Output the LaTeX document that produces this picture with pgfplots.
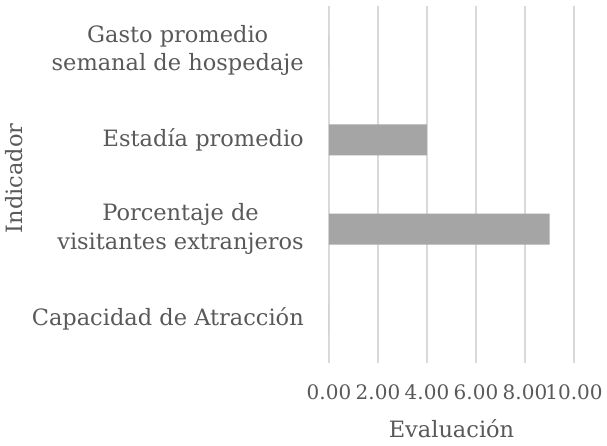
\documentclass[border=0pt]{standalone}
\usepackage{pgfplots}
\pgfplotsset{compat=1.18}
\usepackage{fontspec}
\setmainfont{DejaVu Serif}
\definecolor{txtc}{HTML}{595959}
\definecolor{barc}{HTML}{A5A5A5}
\definecolor{gridc}{HTML}{D9D9D9}
\begin{document}
\begin{tikzpicture}
\begin{axis}[
  scale only axis, width=245pt, height=357pt,
  xbar, bar width=31pt,
  xmin=0, xmax=10, ymin=-0.5, ymax=3.5,
  xtick={0,2,4,6,8,10},
  ytick={0,1,2,3},
  yticklabels={Capacidad de Atracción, Porcentaje de\\visitantes extranjeros, Estadía promedio, Gasto promedio\\semanal de hospedaje},
  xticklabel={\pgfmathprintnumber[fixed, fixed zerofill, precision=2]{\tick}},
  /pgf/number format/assume math mode=true,
  major tick length=0pt,
  axis line style={draw=none},
  xmajorgrids, ymajorgrids=false,
  major grid style={draw=gridc, line width=1.6pt},
  font=\fontsize{22.5}{28.5}\selectfont,
  tick label style={text=txtc},
  yticklabel style={align=center, inner sep=0pt, xshift=-25pt},
  xticklabel style={inner sep=0pt, yshift=-21pt, font=\fontsize{20}{26}\selectfont},
  xlabel={Evaluación}, ylabel={Indicador},
  label style={text=txtc, inner sep=0pt},
  xlabel style={at={([yshift=-74pt]axis description cs:0.5,0)}, anchor=base},
  ylabel style={at={([xshift=-306pt, yshift=6pt]axis description cs:0,0.5)}, anchor=base},
]
\addplot[fill=barc, draw=none] coordinates {(0,0) (9,1) (4,2) (0,3)};
\end{axis}
\path (current axis.south west) ++(-329pt,-82pt) rectangle ++(607pt,445pt);
\end{tikzpicture}
\end{document}
